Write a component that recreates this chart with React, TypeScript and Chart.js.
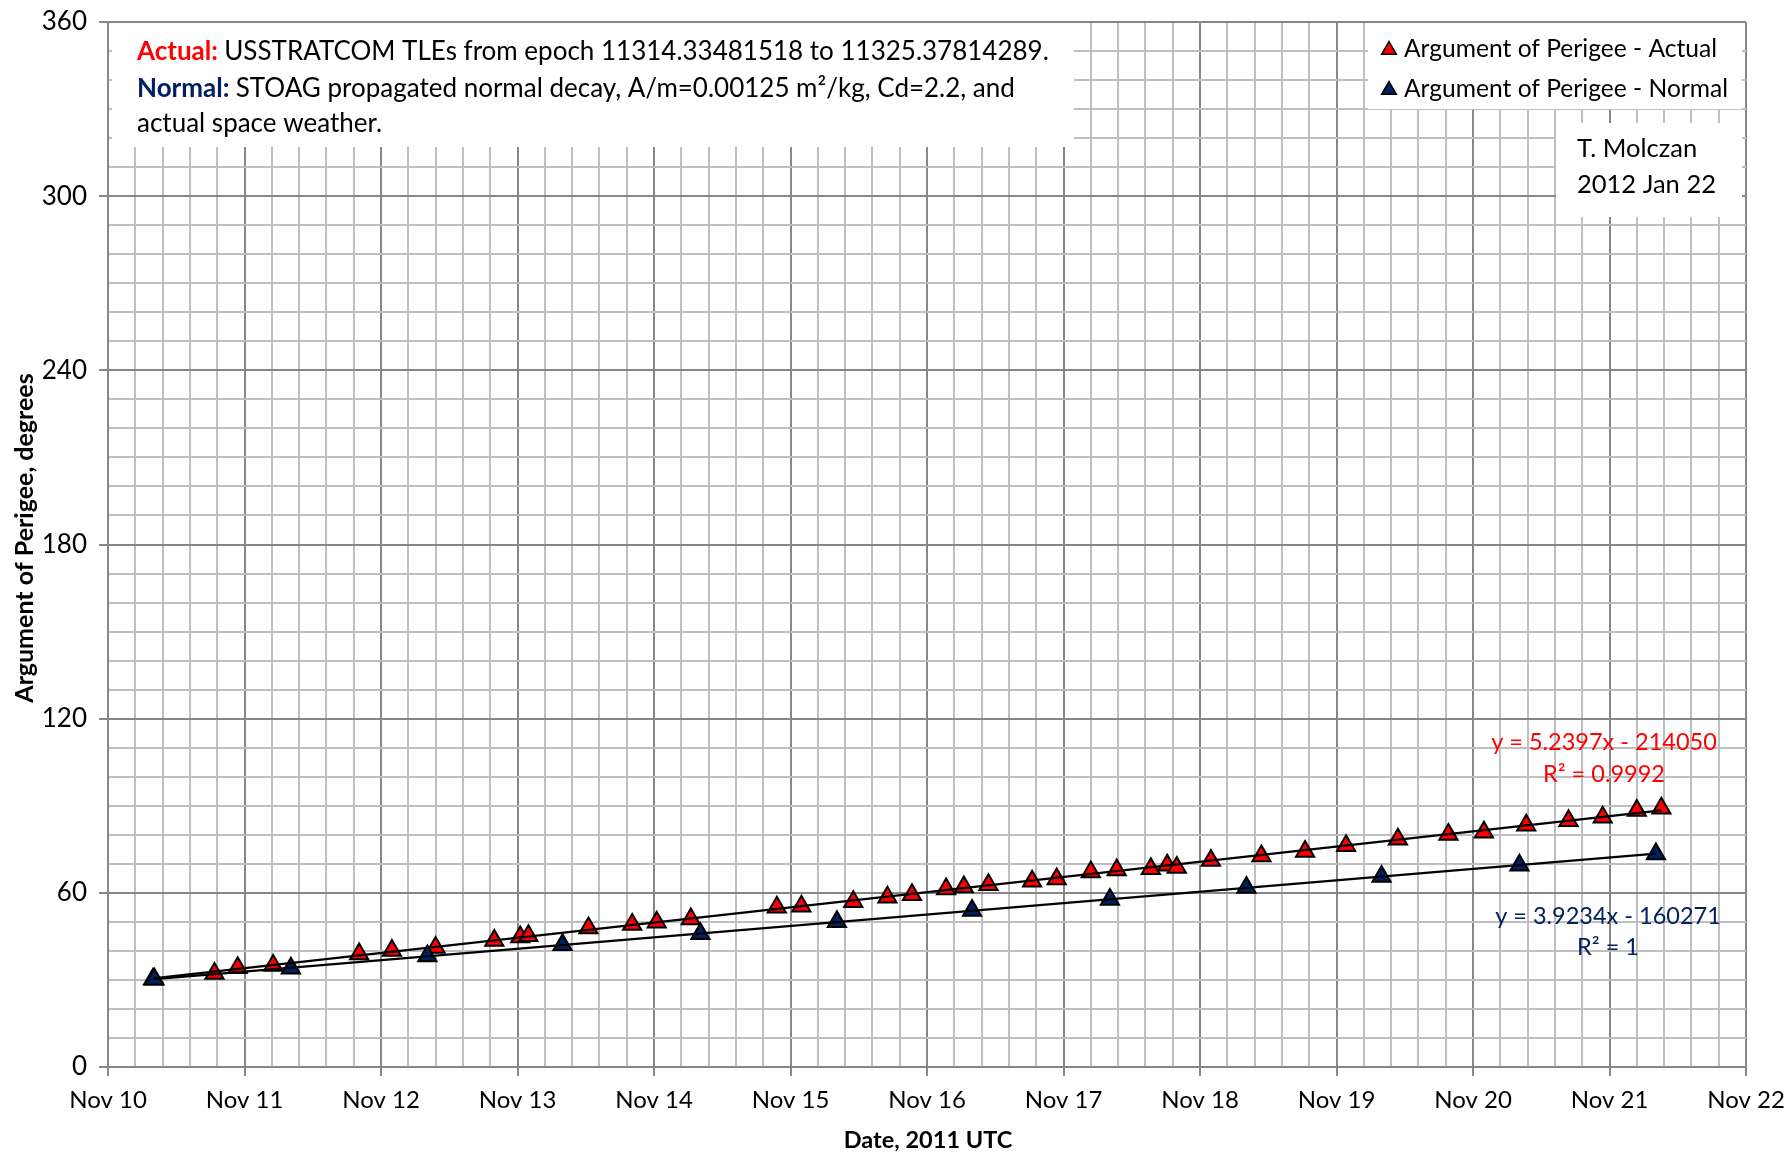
import React, { useEffect, useRef } from "react";
import { Chart, registerables } from "chart.js";

Chart.register(...registerables);

// Day of November 2011 (UTC, fractional)
const actualDays = [10.33, 10.78, 10.95, 11.21, 11.84, 12.08, 12.40, 12.83, 13.02, 13.08, 13.52, 13.84, 14.02, 14.27, 14.90, 15.08, 15.46, 15.71, 15.89, 16.14, 16.27, 16.45, 16.77, 16.95, 17.20, 17.39, 17.64, 17.76, 17.83, 18.08, 18.45, 18.77, 19.07, 19.45, 19.82, 20.08, 20.39, 20.70, 20.95, 21.20, 21.38];
const actualValues = [30.2, 32.2, 34.2, 35.0, 38.9, 40.1, 41.2, 43.6, 44.8, 45.2, 47.9, 49.1, 49.9, 51.0, 55.0, 55.4, 56.9, 58.5, 59.3, 61.3, 62.0, 62.8, 64.0, 64.8, 67.2, 67.9, 68.3, 69.5, 68.7, 71.1, 72.7, 74.2, 76.2, 78.5, 80.1, 80.9, 83.3, 84.8, 86.0, 88.4, 89.1];

const normalDays = [10.34, 11.34, 12.34, 13.33, 14.34, 15.34, 16.33, 17.34, 18.34, 19.33, 20.34, 21.34];
const normalValues = [30.2, 34.0, 38.2, 42.1, 45.9, 50.0, 53.9, 57.7, 61.8, 65.6, 69.5, 73.4];

const xMin = 10;
const xMax = 22;
const yMin = 0;
const yMax = 360;

const annotationLines = [
  { bold: "Actual:", color: "#FF0000", text: "USSTRATCOM TLEs from epoch 11314.33481518 to 11325.37814289." },
  { bold: "Normal:", color: "#002060", text: "STOAG propagated normal decay, A/m=0.00125 m\u00B2/kg, Cd=2.2, and" },
  { bold: "", color: "#000", text: "actual space weather." },
];
const legendLabels = ["Argument of Perigee - Actual", "Argument of Perigee - Normal"];
const authorLines = ["T. Molczan", "2012 Jan 22"];
const actualEq = ["y = 5.2397x - 214050", "R\u00B2 = 0.9992"];
const normalEq = ["y = 3.9234x - 160271", "R\u00B2 = 1"];

const RED = "#FF0000";
const NAVY = "#002060";
const FONT = "Lato, 'Open Sans', sans-serif";

function fit(xs: number[], ys: number[]) {
  const n = xs.length;
  let sx = 0, sy = 0, sxx = 0, sxy = 0;
  for (let i = 0; i < n; i++) {
    sx += xs[i]; sy += ys[i]; sxx += xs[i] * xs[i]; sxy += xs[i] * ys[i];
  }
  const m = (n * sxy - sx * sy) / (n * sxx - sx * sx);
  const b = (sy - m * sx) / n;
  const x0 = Math.min(...xs), x1 = Math.max(...xs);
  return [{ x: x0, y: m * x0 + b }, { x: x1, y: m * x1 + b }];
}

function drawTri(ctx: CanvasRenderingContext2D, x: number, y: number, r: number, fill: string) {
  ctx.beginPath();
  for (let i = 0; i < 3; i++) {
    const a = (i * 2 * Math.PI) / 3;
    const px = x + Math.sin(a) * r;
    const py = y - Math.cos(a) * r;
    if (i === 0) ctx.moveTo(px, py); else ctx.lineTo(px, py);
  }
  ctx.closePath();
  ctx.fillStyle = fill;
  ctx.fill();
  ctx.lineWidth = 1.5;
  ctx.strokeStyle = "#000";
  ctx.stroke();
}

const overlayPlugin = {
  id: "overlay",
  afterDraw(chart: any) {
    const ctx: CanvasRenderingContext2D = chart.ctx;
    ctx.save();
    // Annotation box
    ctx.fillStyle = "#fff";
    ctx.fillRect(112, 23, 962, 124);
    ctx.textBaseline = "middle";
    ctx.textAlign = "left";
    const ys = [52, 89, 124];
    annotationLines.forEach((ln, i) => {
      let x = 137;
      if (ln.bold) {
        ctx.font = `bold 26px ${FONT}`;
        ctx.fillStyle = ln.color;
        ctx.fillText(ln.bold, x, ys[i]);
        x += ctx.measureText(ln.bold + " ").width;
      }
      ctx.font = `26px ${FONT}`;
      ctx.fillStyle = "#000";
      ctx.fillText(ln.text, x, ys[i]);
    });
    // Legend box
    ctx.fillStyle = "#fff";
    ctx.fillRect(1368, 23, 374, 86);
    ctx.font = `24.6px ${FONT}`;
    const ly = [49, 89];
    const lf = [RED, NAVY];
    legendLabels.forEach((t, i) => {
      drawTri(ctx, 1389, ly[i] + 1, 8.5, lf[i]);
      ctx.fillStyle = "#000";
      ctx.fillText(t, 1404, ly[i]);
    });
    // Author box
    ctx.fillStyle = "#fff";
    ctx.fillRect(1556, 123, 186, 94);
    ctx.font = `25.5px ${FONT}`;
    ctx.fillStyle = "#000";
    ctx.fillText(authorLines[0], 1577, 149);
    ctx.fillText(authorLines[1], 1577, 185);
    // Trendline equations
    ctx.textAlign = "center";
    ctx.font = `23.5px ${FONT}`;
    ctx.fillStyle = RED;
    ctx.fillText(actualEq[0], 1604, 742);
    ctx.fillText(actualEq[1], 1604, 774);
    ctx.fillStyle = NAVY;
    ctx.fillText(normalEq[0], 1608, 916);
    ctx.fillText(normalEq[1], 1608, 947);
    // Axis titles
    ctx.fillStyle = "#000";
    ctx.font = `bold 23.5px ${FONT}`;
    ctx.fillText("Date, 2011 UTC", 928, 1140);
    ctx.font = `bold 25px ${FONT}`;
    ctx.translate(25, 538);
    ctx.rotate(-Math.PI / 2);
    ctx.fillText("Argument of Perigee, degrees", 0, 0);
    ctx.restore();
  },
};

const isWhole = (v: number) => Math.abs(v - Math.round(v)) < 1e-6;
const MAJOR = "#878787";
const MINOR = "#BFBFBF";

export default function App() {
  const ref = useRef<HTMLCanvasElement | null>(null);
  useEffect(() => {
    document.body.style.margin = "0";
    const canvas = ref.current!;
    const actualTrend = fit(actualDays, actualValues);
    const normalTrend = fit(normalDays, normalValues);
    const chart = new Chart(canvas, {
      type: "scatter",
      data: {
        datasets: [
          {
            label: "trendA",
            type: "line",
            data: actualTrend,
            borderColor: "#000",
            borderWidth: 2.2,
            pointRadius: 0,
            showLine: true,
            fill: false,
            order: 0,
          } as any,
          {
            label: "trendN",
            type: "line",
            data: normalTrend,
            borderColor: "#000",
            borderWidth: 2.2,
            pointRadius: 0,
            showLine: true,
            fill: false,
            order: 0,
          } as any,
          {
            label: legendLabels[1],
            data: normalDays.map((d, i) => ({ x: d, y: normalValues[i] })),
            pointStyle: "triangle",
            pointRadius: 10.5,
            backgroundColor: NAVY,
            borderColor: "#000",
            borderWidth: 2,
            order: 1,
          },
          {
            label: legendLabels[0],
            data: actualDays.map((d, i) => ({ x: d, y: actualValues[i] })),
            pointStyle: "triangle",
            pointRadius: 10.5,
            backgroundColor: RED,
            borderColor: "#000",
            borderWidth: 2,
            order: 2,
          },
        ],
      },
      options: {
        animation: false,
        responsive: false,
        events: [],
        layout: { padding: { left: 0, right: 42, top: 22, bottom: 0 } },
        plugins: { legend: { display: false }, tooltip: { enabled: false } },
        scales: {
          x: {
            type: "linear",
            min: xMin,
            max: xMax,
            afterFit: (s: any) => { s.height = 88; s.paddingLeft = 0; s.paddingRight = 0; },
            ticks: {
              stepSize: 0.2,
              autoSkip: false,
              maxRotation: 0,
              padding: 10,
              color: "#000",
              font: { family: FONT, size: 24 },
              callback: (v: any) => (isWhole(Number(v)) ? "Nov " + Math.round(Number(v)) : ""),
            },
            grid: {
              color: (c: any) => (isWhole(c.tick.value) ? MAJOR : MINOR),
              lineWidth: 2,
              tickLength: 9,
              tickColor: (c: any) => (isWhole(c.tick.value) ? MAJOR : "rgba(0,0,0,0)"),
            },
            border: { color: MAJOR, width: 2 },
          },
          y: {
            type: "linear",
            min: yMin,
            max: yMax,
            afterFit: (s: any) => { s.width = 108; s.paddingTop = 0; s.paddingBottom = 0; },
            ticks: {
              stepSize: 10,
              autoSkip: false,
              padding: 12,
              color: "#000",
              font: { family: FONT, size: 26 },
              callback: (v: any) => (Number(v) % 60 === 0 ? String(v) : ""),
            },
            grid: {
              color: (c: any) => (c.tick.value % 60 === 0 ? MAJOR : MINOR),
              lineWidth: 2,
              tickLength: 9,
              tickColor: (c: any) => (c.tick.value % 60 === 0 ? MAJOR : "rgba(0,0,0,0)"),
            },
            border: { color: MAJOR, width: 2 },
          },
        },
      },
      plugins: [overlayPlugin],
    });
    return () => chart.destroy();
  }, []);
  return <canvas ref={ref} width={1788} height={1155} style={{ display: "block" }} />;
}
